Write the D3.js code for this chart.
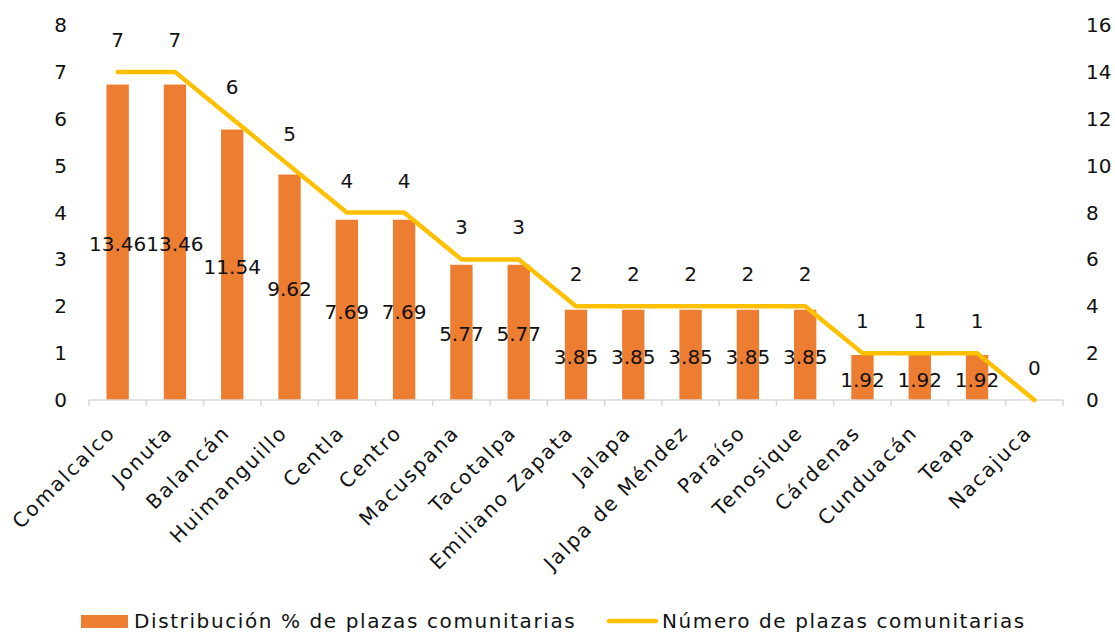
<!DOCTYPE html>
<html>
<head>
<meta charset="utf-8">
<script src="https://cdn.jsdelivr.net/npm/d3@7"></script>
<style>
  html, body { margin: 0; padding: 0; background: #fff; }
  svg { display: block; }
  text { font-family: "Century Gothic", "DejaVu Sans", sans-serif; fill: #111; }
</style>
</head>
<body>
<svg id="chart" width="1115" height="633"></svg>
<script>
const categories = ["Comalcalco","Jonuta","Balancán","Huimanguillo","Centla","Centro","Macuspana","Tacotalpa","Emiliano Zapata","Jalapa","Jalpa de Méndez","Paraíso","Tenosique","Cárdenas","Cunduacán","Teapa","Nacajuca"];
const pctValues = [13.46,13.46,11.54,9.62,7.69,7.69,5.77,5.77,3.85,3.85,3.85,3.85,3.85,1.92,1.92,1.92,0];
const numValues = [7,7,6,5,4,4,3,3,2,2,2,2,2,1,1,1,0];
const leftTicks = [0,1,2,3,4,5,6,7,8];
const rightTicks = [0,2,4,6,8,10,12,14,16];
const seriesNames = ["Distribución % de plazas comunitarias","Número de plazas comunitarias"];

const svg = d3.select("#chart");
const x0 = 89, x1 = 1063, yBottom = 400, yTop = 25;
const fs = 20;

const x = d3.scaleBand().domain(categories).range([x0, x1]).paddingInner(0).paddingOuter(0);
const yL = d3.scaleLinear().domain([0, 8]).range([yBottom, yTop]);
const yR = d3.scaleLinear().domain([0, 16]).range([yBottom, yTop]);
const barW = x.bandwidth() * 0.39;

// bars (right axis)
svg.append("g").selectAll("rect").data(categories).join("rect")
  .attr("x", (d) => x(d) + x.bandwidth()/2 - barW/2)
  .attr("y", (d, i) => yR(pctValues[i]))
  .attr("width", barW)
  .attr("height", (d, i) => yBottom - yR(pctValues[i]))
  .attr("fill", "#ED7D31");

// x axis
const xAxis = svg.append("g").attr("transform", `translate(0,${yBottom})`);
xAxis.append("line").attr("x1", x0).attr("x2", x1).attr("y1", 0).attr("y2", 0)
  .attr("stroke", "#d9d9d9").attr("stroke-width", 1.5);
const boundaries = categories.map(d => x(d)).concat([x1]);
xAxis.selectAll("line.tick").data(boundaries).join("line").attr("class","tick")
  .attr("x1", d => d).attr("x2", d => d).attr("y1", 0).attr("y2", 6)
  .attr("stroke", "#d9d9d9").attr("stroke-width", 1.5);
xAxis.selectAll("text").data(categories).join("text")
  .attr("transform", d => `translate(${x(d) + x.bandwidth()/2 - 6},${29}) rotate(-45)`)
  .attr("text-anchor", "end")
  .attr("dy", "0.35em")
  .style("font-size", fs + "px")
  .style("letter-spacing", "2px")
  .text(d => d);

// left axis labels
svg.append("g").selectAll("text").data(leftTicks).join("text")
  .attr("x", 67).attr("y", d => yL(d)).attr("dy", "0.35em")
  .attr("text-anchor", "end").style("font-size", fs + "px").text(d => d);
// right axis labels
svg.append("g").selectAll("text").data(rightTicks).join("text")
  .attr("x", 1086).attr("y", d => yR(d)).attr("dy", "0.35em")
  .attr("text-anchor", "start").style("font-size", fs + "px").text(d => d);

// line (left axis)
const line = d3.line().x((d, i) => x(categories[i]) + x.bandwidth()/2).y(d => yL(d));
svg.append("path").datum(numValues).attr("d", line)
  .attr("fill", "none").attr("stroke", "#FFC000").attr("stroke-width", 4.5)
  .attr("stroke-linejoin", "round").attr("stroke-linecap", "round");

// bar labels (center of bar)
svg.append("g").selectAll("text").data(categories.filter((d,i) => pctValues[i] > 0)).join("text")
  .attr("x", d => x(d) + x.bandwidth()/2)
  .attr("y", d => (yR(pctValues[categories.indexOf(d)]) + yBottom)/2 + 2)
  .attr("dy", "0.35em").attr("text-anchor", "middle")
  .style("font-size", fs + "px")
  .text(d => pctValues[categories.indexOf(d)].toFixed(2));

// line labels (above)
svg.append("g").selectAll("text").data(categories).join("text")
  .attr("x", d => x(d) + x.bandwidth()/2)
  .attr("y", (d, i) => yL(numValues[i]) - 32)
  .attr("dy", "0.35em").attr("text-anchor", "middle")
  .style("font-size", fs + "px")
  .text((d, i) => numValues[i]);

// legend
const lg = svg.append("g");
lg.append("rect").attr("x", 81).attr("y", 615).attr("width", 47).attr("height", 13).attr("fill", "#ED7D31");
lg.append("text").attr("x", 134).attr("y", 621).attr("dy", "0.35em").style("font-size", fs + "px")
  .style("letter-spacing", "1.6px").text(seriesNames[0]);
lg.append("line").attr("x1", 609).attr("x2", 656).attr("y1", 621).attr("y2", 621)
  .attr("stroke", "#FFC000").attr("stroke-width", 4.5).attr("stroke-linecap", "round");
lg.append("text").attr("x", 662).attr("y", 621).attr("dy", "0.35em").style("font-size", fs + "px")
  .style("letter-spacing", "1.6px").text(seriesNames[1]);
</script>
</body>
</html>
